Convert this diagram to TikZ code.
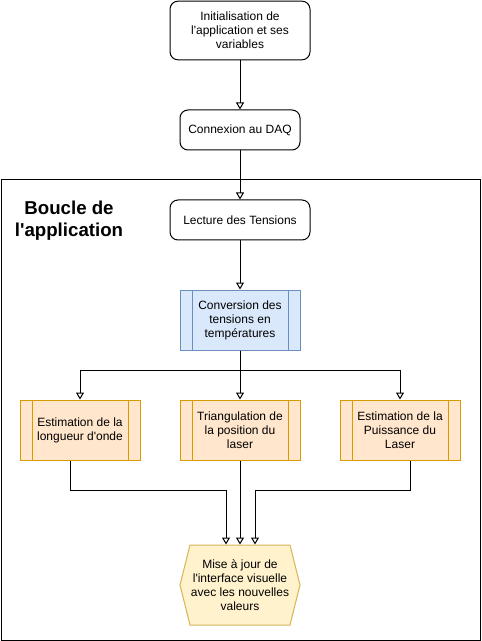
\documentclass[tikz,border=0pt]{standalone}
\usepackage{fontspec}
\setmainfont{Liberation Sans}[Ligatures=TeXOff]
\usetikzlibrary{arrows.meta}
\definecolor{procfill}{HTML}{DAE8FC}
\definecolor{procline}{HTML}{6C8EBF}
\definecolor{estfill}{HTML}{FFE6CC}
\definecolor{estline}{HTML}{D79B00}
\definecolor{hexfill}{HTML}{FFF2CC}
\definecolor{hexline}{HTML}{D6B656}
\tikzset{every picture/.style={line width=0.75pt}}
\tikzset{
  stepbox/.style={draw, rounded corners=6pt, align=center, inner sep=0.75pt, font=\fontsize{9}{10.5}\selectfont},
  subproc/.style={draw=#1, align=center, inner sep=0.75pt, font=\fontsize{9}{10.5}\selectfont, minimum width=90pt, minimum height=45pt,
    path picture={\draw[#1] ([xshift=9pt]path picture bounding box.north west) -- ([xshift=9pt]path picture bounding box.south west);
      \draw[#1] ([xshift=-9pt]path picture bounding box.north east) -- ([xshift=-9pt]path picture bounding box.south east);}},
  flow/.style={-{Triangle[open,length=5.25pt,width=6pt]}}
}

\begin{document}
\begin{tikzpicture}[x=0.75pt,y=0.75pt,yscale=-1,xscale=1]
\useasboundingbox (0,0) rectangle (481,641);

%Shape: Rectangle [id:boucle]
\draw (1,180) rectangle (480,640);
% Text Node
\draw (69,221) node [align=center, inner sep=0.75pt, font=\fontsize{14}{16.5}\selectfont\bfseries] (titre) {Boucle de\\l'application};

% Steps
\draw (240,30.5) node [stepbox, minimum width=105pt, minimum height=44pt] (init) {Initialisation de\\l'application et ses\\variables};
\draw (240,130) node [stepbox, minimum width=90pt, minimum height=30pt] (daq) {Connexion au DAQ};
\draw (240,220) node [stepbox, minimum width=105pt, minimum height=30pt] (lecture) {Lecture des Tensions};
\draw (240,320) node [subproc=procline, fill=procfill] (conv) {Conversion des\\tensions en\\températures};
\draw (80,430) node [subproc=estline, fill=estfill] (onde) {Estimation de la\\longueur d'onde};
\draw (240,430) node [subproc=estline, fill=estfill] (triang) {Triangulation de\\la position du\\laser};
\draw (400,430) node [subproc=estline, fill=estfill] (puiss) {Estimation de la\\Puissance du\\Laser};

%Shape: Hexagon [id:maj]
\draw [draw=hexline, fill=hexfill] (180,585) -- (190,545) -- (290,545) -- (300,585) -- (290,625) -- (190,625) -- cycle;
\draw (240,585) node [align=center, inner sep=0.75pt, minimum width=90pt, minimum height=60pt, font=\fontsize{9}{10.5}\selectfont] (maj) {Mise à jour de\\l'interface visuelle\\avec les nouvelles\\valeurs};

%Straight Lines
\draw [flow] (init) -- (daq);
\draw [flow] (daq) -- (lecture);
\draw [flow] (lecture) -- (conv);
\draw [flow] (conv) -- (triang);
\draw [flow] (conv.south) -- ++(0,20) -| (onde.north);
\draw [flow] (conv.south) -- ++(0,20) -| (puiss.north);
\draw [flow] ([xshift=-7.5pt]onde.south) -- ++(0,30) -| ([xshift=-10.5pt]maj.north);
\draw [flow] (triang) -- (maj);
\draw [flow] ([xshift=7.5pt]puiss.south) -- ++(0,30) -| ([xshift=11.25pt]maj.north);

\end{tikzpicture}
\end{document}
